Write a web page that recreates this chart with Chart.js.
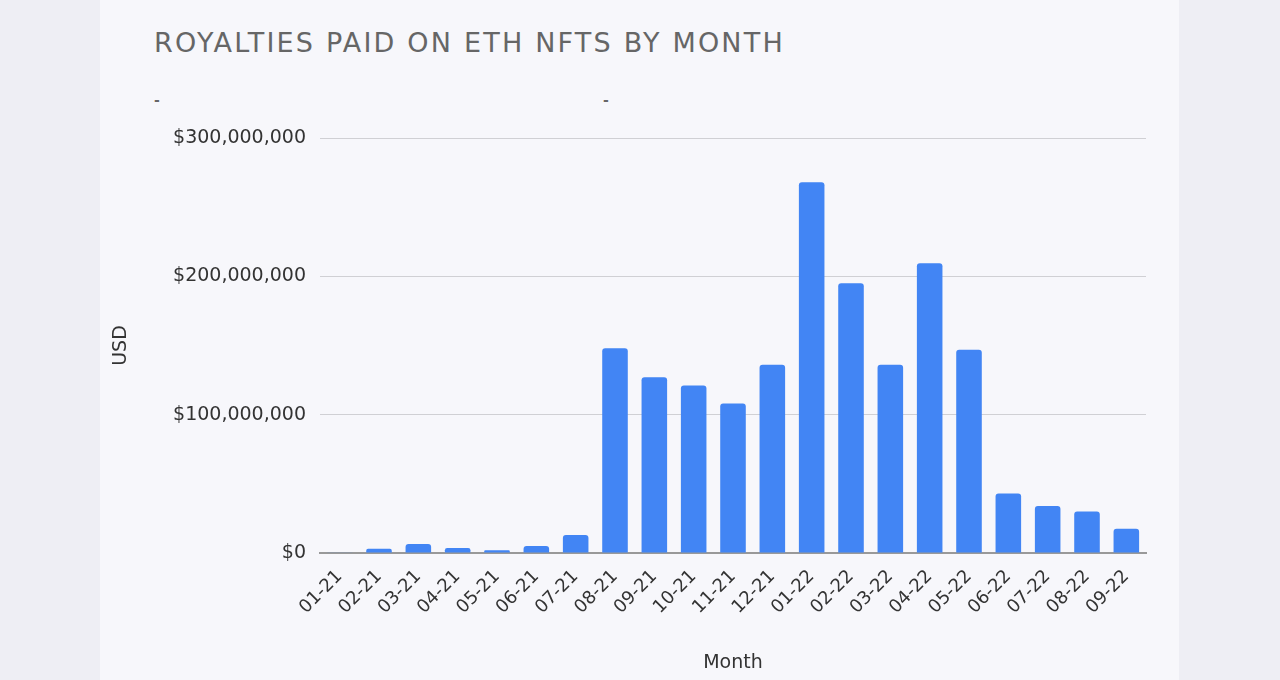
<!DOCTYPE html>
<html>
<head>
<meta charset="utf-8">
<script src="https://cdn.jsdelivr.net/npm/chart.js@4/dist/chart.umd.min.js"></script>
<style>
  html, body { margin: 0; padding: 0; }
  body { width: 1280px; height: 680px; background: #eeeef4; position: relative; overflow: hidden; }
  #panel { position: absolute; left: 100px; top: 0; width: 1079px; height: 680px; background: #f7f7fb; }
  #title {
    position: absolute; left: 54px; top: 27px;
    font-family: "DejaVu Sans", sans-serif; font-size: 27px; color: #666;
    letter-spacing: 2.2px; white-space: nowrap;
  }
  .dash { position: absolute; top: 92px; font-family: "DejaVu Sans", sans-serif; font-size: 14px; font-weight: bold; color: #666; }
  #wrap { position: absolute; left: 0; top: 0; width: 1079px; height: 680px; }
</style>
</head>
<body>
<div id="panel">
  <div id="title">ROYALTIES PAID ON ETH NFTS BY MONTH</div>
  <span class="dash" style="left:54px">-</span>
  <span class="dash" style="left:503px">-</span>
  <div id="wrap"><canvas id="royalties-chart"></canvas></div>
</div>
<script>
// Месяцы (ось X)
const months = ['01-21', '02-21', '03-21', '04-21', '05-21', '06-21', '07-21', '08-21', '09-21', '10-21', '11-21',
                '12-21', '01-22', '02-22', '03-22', '04-22', '05-22', '06-22', '07-22', '08-22', '09-22'];

// Роялти в USD
const royaltiesUsd = [300000, 3000000, 6500000, 3600000, 2000000, 5000000, 13000000, 148000000, 127000000, 121000000,
                      108000000, 136000000, 268000000, 195000000, 136000000, 209500000, 147000000, 43000000,
                      34000000, 30000000, 17500000];

// Деления оси Y
const yTicks = [0, 100000000, 200000000, 300000000];

const tickFont = { family: 'DejaVu Sans, sans-serif', size: 18 };
const axisTitleFont = { family: 'DejaVu Sans, sans-serif', size: 19 };

const ctx = document.getElementById('royalties-chart').getContext('2d');
const royaltiesChart = new Chart(ctx, {
    type: 'bar',
    data: {
        labels: months,
        datasets: [{
            label: 'USD',
            data: royaltiesUsd,
            backgroundColor: '#4285f4',
            borderRadius: { topLeft: 3, topRight: 3 },
            borderSkipped: 'bottom',
            barPercentage: 0.65,
            categoryPercentage: 1.0
        }]
    },
    options: {
        responsive: true,
        maintainAspectRatio: false,
        animation: false,
        layout: {
            padding: { top: 138, right: 33, left: 10, bottom: 0 }
        },
        plugins: {
            legend: { display: false },
            tooltip: { enabled: false }
        },
        scales: {
            x: {
                grid: { display: false },
                border: { color: '#999', width: 2 },
                ticks: {
                    color: '#333',
                    font: tickFont,
                    minRotation: 45,
                    maxRotation: 45,
                    autoSkip: false,
                    padding: 5
                },
                title: {
                    display: true,
                    text: 'Month',
                    color: '#333',
                    font: axisTitleFont,
                    padding: { top: 0, bottom: 6 }
                },
                afterFit: function(scale) { scale.height = 127; }
            },
            y: {
                min: 0,
                max: 300000000,
                afterBuildTicks: function(scale) {
                    scale.ticks = yTicks.map(v => ({ value: v }));
                },
                grid: { color: '#d0d0d4', drawTicks: false },
                border: { display: false },
                ticks: {
                    color: '#333',
                    font: { family: 'DejaVu Sans, sans-serif', size: 19 },
                    padding: 14,
                    callback: function(value) {
                        return '$' + Number(value).toLocaleString('en-US');
                    }
                },
                title: {
                    display: true,
                    text: 'USD',
                    color: '#333',
                    font: axisTitleFont,
                    padding: 0
                },
                afterFit: function(scale) { scale.width = 210; }
            }
        }
    }
});
</script>
</body>
</html>
